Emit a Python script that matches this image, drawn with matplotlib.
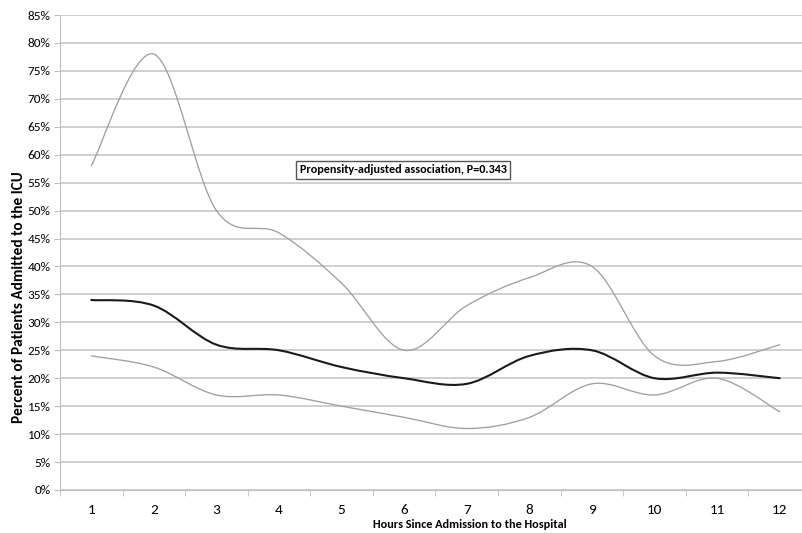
import numpy as np
import matplotlib
matplotlib.use("Agg")
import matplotlib.pyplot as plt
from matplotlib.path import Path
from matplotlib.patches import PathPatch
from matplotlib import font_manager as fm

hours = [1, 2, 3, 4, 5, 6, 7, 8, 9, 10, 11, 12]
upper = [58, 78, 50, 46, 37, 25, 33, 38, 40, 24, 23, 26]
middle = [34, 33, 26, 25, 22, 20, 19, 24, 25, 20, 21, 20]
lower = [24, 22, 17, 17, 15, 13, 11, 13, 19, 17, 20, 14]
yticks = list(range(0, 90, 5))
annotation = "Propensity-adjusted association, P=0.343"
xlabel = "Hours Since Admission to the Hospital"
ylabel = "Percent of Patients Admitted to the ICU"

available = {f.name for f in fm.fontManager.ttflist}
family = 'DejaVu Sans'
for cand in ['Carlito', 'Liberation Sans Narrow', 'Open Sans Condensed', 'Roboto Condensed',
             'PT Sans Narrow', 'Archivo Narrow', 'Fira Sans Condensed', 'Liberation Sans']:
    if cand in available:
        family = cand
        break
plt.rcParams['font.family'] = [family, 'DejaVu Sans']


def smooth_path(xs, ys):
    """Excel-like smoothed line: cubic Bezier with Catmull-Rom control points."""
    xs = np.asarray(xs, float)
    ys = np.asarray(ys, float)
    n = len(xs)
    verts = [(xs[0], ys[0])]
    codes = [Path.MOVETO]
    for i in range(n - 1):
        p0 = np.array([xs[max(i - 1, 0)], ys[max(i - 1, 0)]])
        p1 = np.array([xs[i], ys[i]])
        p2 = np.array([xs[i + 1], ys[i + 1]])
        p3 = np.array([xs[min(i + 2, n - 1)], ys[min(i + 2, n - 1)]])
        c1 = p1 + (p2 - p0) / 6.0
        c2 = p2 - (p3 - p1) / 6.0
        verts += [tuple(c1), tuple(c2), tuple(p2)]
        codes += [Path.CURVE4] * 3
    return Path(verts, codes)


W, H = 802, 533
fig = plt.figure(figsize=(W / 100, H / 100), dpi=100)
ax = fig.add_axes([60 / W, 1 - 490 / H, 751 / W, 475 / H])

ax.set_xlim(0.5, 12.5)
ax.set_ylim(0, 85)

for series, color, lw in [(upper, '#a0a0a0', 0.95), (lower, '#a0a0a0', 0.95), (middle, '#1a1a1a', 1.5)]:
    p = smooth_path(hours, series)
    ax.add_patch(PathPatch(p, facecolor='none', edgecolor=color, lw=lw, zorder=3,
                           capstyle='round', joinstyle='round'))

ax.set_yticks(yticks)
ax.set_yticklabels([f"{v}%" for v in yticks], fontsize=10)
ax.yaxis.grid(True, color='#cccccc', lw=1.3, zorder=0)
ax.set_axisbelow(True)

ax.set_xticks(hours)
ax.set_xticklabels([str(h) for h in hours], fontsize=10.5)
ax.set_xticks([h + 0.5 for h in [0] + hours], minor=True)
ax.tick_params(axis='x', which='major', length=0, pad=10)
ax.tick_params(axis='x', which='minor', length=4, color='#bfbfbf', direction='out')
ax.tick_params(axis='y', length=4, color='#bfbfbf', direction='out', pad=3)

for s in ['top', 'right']:
    ax.spines[s].set_visible(False)
ax.spines['left'].set_color('#bfbfbf')
ax.spines['bottom'].set_color('#bfbfbf')

xl = fig.text(470 / W, 1 - 525 / H, xlabel, ha='center', va='center', fontsize=10, fontweight='bold')
yl = fig.text(19 / W, 1 - 297 / H, ylabel, ha='center', va='center', rotation=90,
              fontsize=10, fontweight='bold')

ann = ax.text(5.98, 57.3, annotation, ha='center', va='center', fontsize=10, fontweight='bold',
              bbox=dict(boxstyle='square,pad=0.28', facecolor='white', edgecolor='#555555', lw=1.0),
              zorder=5)

# fit text sizes to the reference's measured extents
fig.canvas.draw()
r = fig.canvas.get_renderer()


def fit(t, target, use_height=False, boost=1.0):
    bb = t.get_window_extent(r)
    cur = bb.height if use_height else bb.width
    t.set_fontsize(t.get_fontsize() * target / cur * boost)


fit(xl, 183, boost=1.06)
fit(yl, 251, use_height=True)
fit(ann, 194, boost=1.06)
lab = ax.get_yticklabels()[-1]
bb = lab.get_window_extent(r)
ysz = 10 * 22 / bb.width * 1.04
for t in ax.get_yticklabels():
    t.set_fontsize(ysz)
for t in ax.get_xticklabels():
    t.set_fontsize(ysz * 1.15)

fig.savefig('out.png', dpi=100)
